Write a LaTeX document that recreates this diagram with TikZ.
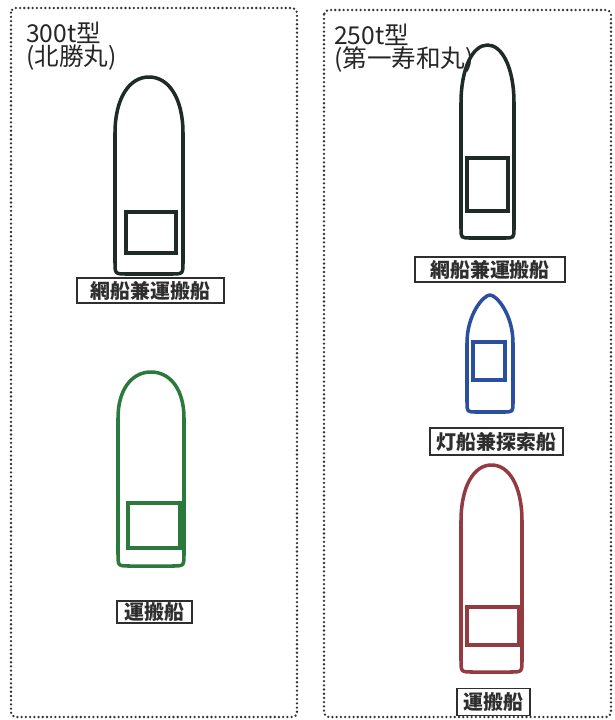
\documentclass[tikz,border=0pt]{standalone}
\usepackage{fontspec}
\setmainfont{Noto Sans CJK JP}

\definecolor{hulldark}{HTML}{1E2B27}
\definecolor{hullgreen}{HTML}{2B7A3C}
\definecolor{hullblue}{HTML}{2A4F9E}
\definecolor{hullred}{HTML}{943B42}
\definecolor{tagink}{HTML}{2E2E2E}

% hull outline: colour, left, top, right, bottom, bow length, corner, bow sharpness
\newcommand{\shiphull}[8]{%
  \draw[hull,#1] (#2,{#3+#6})
    .. controls (#2,{#3+0.4*#6}) and ({#2+#8*(#4-#2)},#3) .. ({(#2+#4)/2},#3)
    .. controls ({#4-#8*(#4-#2)},#3) and (#4,{#3+0.4*#6}) .. (#4,{#3+#6})
    -- (#4,{#5-#7}) .. controls (#4,#5) .. ({#4-#7},#5)
    -- ({#2+#7},#5) .. controls (#2,#5) .. (#2,{#5-#7}) -- cycle;}

\begin{document}
\begin{tikzpicture}[x=0.03cm,y=-0.03cm,
  hull/.style={line width=3pt,line join=round},
  cabin/.style={line width=3pt},
  fleetbox/.style={draw=black!80,line width=2.2pt,dash pattern=on 0pt off 3.6pt,line cap=round,rounded corners=4pt},
  tag/.style={draw=tagink,line width=1.5pt,inner sep=0pt,text=tagink,
    font=\fontsize{17}{17}\selectfont\bfseries},
  title/.style={anchor=north west,align=left,inner sep=0pt,text=black!85,
    font=\fontsize{21}{19}\selectfont}]

  \useasboundingbox[fill=white] (0,0) rectangle (615,720);

  % two fleets
  \draw[fleetbox] (11,8) rectangle (297,717);
  \draw[fleetbox] (324,10) rectangle (611,717);

  \node[title] (t300) at (26,22) {300t型\\(北勝丸)};
  \node[title] (t250) at (334,24) {250t型\\(第一寿和丸)};

  % 300t net boat
  \shiphull{hulldark}{115}{77}{183}{274}{56}{12}{0.2}
  \draw[cabin,hulldark] (126,212) rectangle (176,253);
  \node[tag,minimum width=4.41cm,minimum height=0.75cm] (net300) at (150.5,290.5) {網船兼運搬船};

  % 300t carrier
  \shiphull{hullgreen}{118}{372}{184}{566}{46}{12}{0.2}
  \draw[cabin,hullgreen] (128,503) rectangle (180,548);
  \node[tag,minimum width=2.25cm,minimum height=0.66cm] (carry300) at (154.5,612) {運搬船};

  % 250t net boat
  \shiphull{hulldark}{461}{45}{514}{238}{58}{10}{0.22}
  \draw[cabin,hulldark] (467,158) rectangle (508,211);
  \node[tag,minimum width=4.5cm,minimum height=0.75cm] (net250) at (490,269.5) {網船兼運搬船};

  % 250t light boat
  \shiphull{hullblue}{467}{295}{513}{412}{48}{10}{0.36}
  \draw[cabin,hullblue] (473,342) rectangle (505,380);
  \node[tag,minimum width=3.99cm,minimum height=0.81cm] (light250) at (496.5,441.5) {灯船兼探索船};

  % 250t carrier
  \shiphull{hullred}{461}{465}{522}{672}{56}{12}{0.2}
  \draw[cabin,hullred] (467,607) rectangle (519,645);
  \node[tag,minimum width=2.19cm,minimum height=0.81cm] (carry250) at (493.5,702) {運搬船};

\end{tikzpicture}
\end{document}
